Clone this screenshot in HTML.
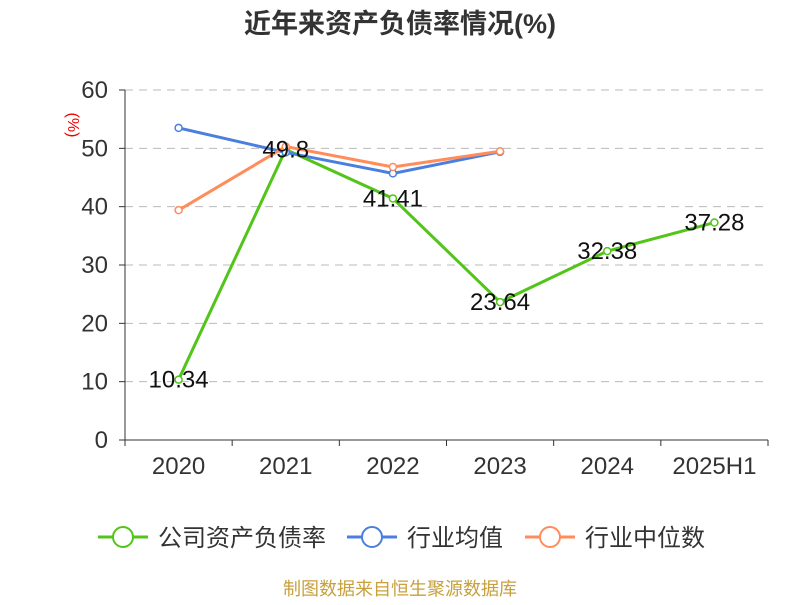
<!DOCTYPE html>
<html><head><meta charset="utf-8">
<style>
body{margin:0;background:#fff;font-family:"Liberation Sans","Noto Sans CJK SC",sans-serif;}
svg text{font-family:"Liberation Sans","Noto Sans CJK SC",sans-serif;}
</style></head>
<body>
<svg width="800" height="600" id="c">
<text x="400" y="33" text-anchor="middle" font-size="27" font-weight="bold" fill="#333">近年来资产负债率情况(%)</text>
<text x="68" y="125" text-anchor="middle" font-size="16" fill="#e00" transform="rotate(90 68 125)">(%)</text>
<g id="grid"></g><g id="axes"></g><g id="series"></g>
<g id="legend"></g>
<text x="400" y="595" text-anchor="middle" font-size="18" fill="#c8a03c">制图数据来自恒生聚源数据库</text>
</svg>
<script>
const categories=["2020","2021","2022","2023","2024","2025H1"];
const yTicks=[0,10,20,30,40,50,60];
const company=[10.34,49.8,41.41,23.64,32.38,37.28];
const industryAvg=[53.5,49.3,45.7,49.4,null,null];
const industryMedian=[39.4,50.3,46.8,49.5,null,null];
const companyLabels=["10.34","49.8","41.41","23.64","32.38","37.28"];
const NS="http://www.w3.org/2000/svg";
const x0=125,x1=768,yTop=90,yBot=440,yMax=60;
const bw=(x1-x0)/categories.length;
const xs=i=>x0+bw*(i+0.5);
const ys=v=>yBot-(v/yMax)*(yBot-yTop);
function mk(tag,attrs,parent){const e=document.createElementNS(NS,tag);for(const k in attrs)e.setAttribute(k,attrs[k]);parent.appendChild(e);return e;}
const grid=document.getElementById('grid'),axes=document.getElementById('axes'),ser=document.getElementById('series');
yTicks.forEach(t=>{
 if(t>0){const l=mk('line',{x1:x0,x2:x1,y1:ys(t),y2:ys(t),stroke:'#bbb','stroke-dasharray':'8,6'},grid);
 }
 const tk=mk('line',{x1:x0-6,x2:x0,y1:ys(t),y2:ys(t),stroke:'#333'},axes);
 const tx=mk('text',{x:x0-17,y:ys(t)+8,'text-anchor':'end','font-size':24,fill:'#333'},axes);tx.textContent=t;
 
});
mk('line',{x1:x0,x2:x0,y1:yTop,y2:yBot,stroke:'#333'},axes);
mk('line',{x1:x0,x2:x1,y1:yBot,y2:yBot,stroke:'#333'},axes);
categories.forEach((c,i)=>{
 mk('line',{x1:x0+bw*i,x2:x0+bw*i,y1:yBot,y2:yBot+6,stroke:'#333'},axes);
 const tx=mk('text',{x:xs(i),y:474,'text-anchor':'middle','font-size':24,fill:'#333'},axes);tx.textContent=c;
 
});
mk('line',{x1:x1,x2:x1,y1:yBot,y2:yBot+6,stroke:'#333'},axes);
function series(data,color,name){
 const g=mk('g',{},ser);
 const pts=data.map((v,i)=>v==null?null:[xs(i),ys(v)]).filter(p=>p);
 mk('polyline',{points:pts.map(p=>p.join(',')).join(' '),fill:'none',stroke:color,'stroke-width':3},g);
 pts.forEach(p=>{const c=mk('circle',{cx:p[0],cy:p[1],r:3.5,fill:'#fff',stroke:color,'stroke-width':1.5},g);
 });
 return g;
}
series(company,'#52c41a','company-series');
series(industryAvg,'#4a7fe0','industry-avg-series');
series(industryMedian,'#ff8c5a','industry-median-series');
company.forEach((v,i)=>{const t=mk('text',{x:xs(i),y:ys(v)+8,'text-anchor':'middle','font-size':24,fill:'#111'},ser);t.textContent=companyLabels[i];
 });
const leg=document.getElementById('legend');
[["公司资产负债率",'#52c41a',98],["行业均值",'#4a7fe0',347],["行业中位数",'#ff8c5a',525]].forEach(([n,c,x])=>{
 const g=mk('g',{},leg);
 mk('line',{x1:x,x2:x+50,y1:537,y2:537,stroke:c,'stroke-width':3},g);
 mk('circle',{cx:x+25,cy:537,r:10,fill:'#fff',stroke:c,'stroke-width':2},g);
 const t=mk('text',{x:x+60,y:546,'font-size':24,fill:'#333'},g);t.textContent=n;
});
</script>
</body></html>
